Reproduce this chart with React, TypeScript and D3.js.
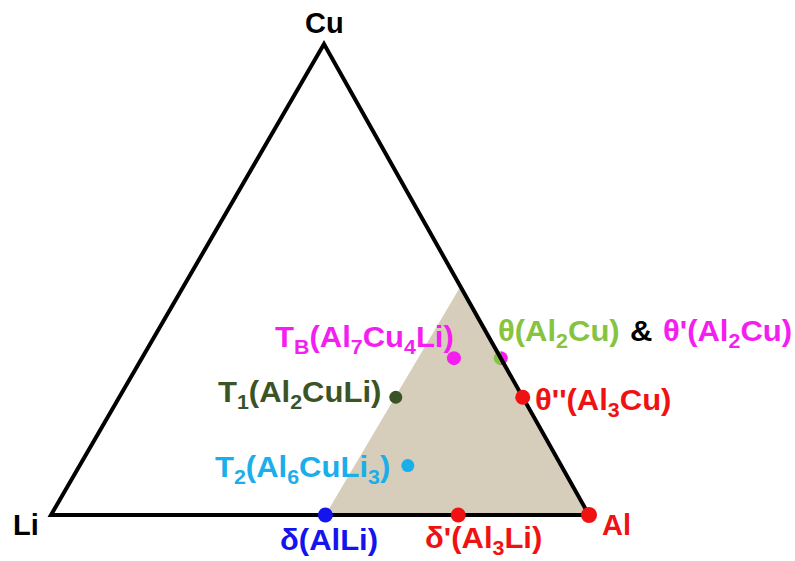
import React from 'react';
import * as d3 from 'd3';

// ---- data ----
const vertexNames = ['Li', 'Al', 'Cu'];
const vertexColors = ['#000000', '#f01212', '#000000'];

const phaseLabels = [
  'δ(AlLi)',
  "δ'(Al_3Li)",
  '',
  "θ''(Al_3Cu)",
  'θ(Al_2Cu)',
  'T_B(Al_7Cu_4Li)',
  'T_1(Al_2CuLi)',
  'T_2(Al_6CuLi_3)',
];
// composition (atomic fraction) of Al and Cu; Li = 1 - Al - Cu
const phaseAl = [0.51, 0.757, 1.0, 0.75, 0.667, 0.58, 0.514, 0.61];
const phaseCu = [0.0, 0.0, 0.0, 0.25, 0.333, 0.333, 0.25, 0.105];
const phaseColors = ['#1414ee', '#f01212', '#f01212', '#f01212', '#86c440', '#f51ef0', '#3b5426', '#1aaeea'];
const secondColor = ['', '', '', '', '#f51ef0', '', '', ''];

const extraLabels = ['&', "θ'(Al_2Cu)"];
const extraColors = ['#000000', '#f51ef0'];

// shaded field (Al-rich corner)
const regionAl = [0.51, 1.0, 0.515];
const regionCu = [0.0, 0.0, 0.485];

// ---- layout ----
const W = 795, H = 561;
const LI = { x: 51, y: 515 };
const AL = { x: 589, y: 515 };
const CU = { x: 324, y: 44 };
const labelPos: [number, number][] = [
  [280, 550], [425, 548], [0, 0], [535, 410], [498, 341], [275, 347], [218, 402], [215, 477],
];
const extraPos: [number, number][] = [[630, 341], [663, 341]];
const vertexLabelPos: [number, number][] = [[13, 535], [602, 535], [305, 33]];
const dotR = [7.5, 7.5, 8, 7.5, 7, 7, 6.5, 6.5];

const FONT = '"Liberation Sans", Arial, sans-serif';

const yScale = d3.scaleLinear().domain([0, 1]).range([LI.y, CU.y]);
const alScale = d3.scaleLinear().domain([0, 1]).range([0, AL.x - LI.x]);
const cuXScale = d3.scaleLinear().domain([0, 1]).range([0, CU.x - LI.x]);

function project(al: number, cu: number): [number, number] {
  return [LI.x + alScale(al) + cuXScale(cu), yScale(cu)];
}

function parse(label: string) {
  const segs: { t: string; sub: boolean }[] = [];
  let i = 0;
  let buf = '';
  while (i < label.length) {
    if (label[i] === '_') {
      if (buf) segs.push({ t: buf, sub: false });
      buf = '';
      segs.push({ t: label[i + 1], sub: true });
      i += 2;
    } else {
      buf += label[i];
      i++;
    }
  }
  if (buf) segs.push({ t: buf, sub: false });
  return segs;
}

function Label({ text, x, y, color, size = 29, sx = 1.07 }: any) {
  const segs = parse(text);
  let shifted = false;
  return (
    <g transform={`translate(${x},${y}) scale(${sx},1)`}>
      <text x={0} y={0} fill={color} fontFamily={FONT} fontWeight="bold" fontSize={size}>
        {segs.map((s, k) => {
          let dy = 0;
          if (s.sub && !shifted) { dy = 7; shifted = true; }
          else if (!s.sub && shifted) { dy = -7; shifted = false; }
          return (
            <tspan key={k} dy={dy} fontSize={s.sub ? 20 : size}>{s.t}</tspan>
          );
        })}
      </text>
    </g>
  );
}

export default function App() {
  const tri = [project(0, 0), project(1, 0), project(0, 1)];
  const triPath = d3.line()(tri) + 'Z';
  const region = regionAl.map((a, i) => project(a, regionCu[i]));
  const regionPath = d3.line()(region) + 'Z';

  const pts = phaseAl.map((a, i) => project(a, phaseCu[i]));

  return (
    <svg width={W} height={H} style={{ position: 'absolute', left: 0, top: 0, background: '#fff' }}>
      <path d={regionPath} fill="#d6cebb" />
      {pts.map((p, i) =>
        secondColor[i] ? (
          <g key={'h' + i}>
            <path d={`M${p[0]},${p[1] - dotR[i]} A${dotR[i]},${dotR[i]} 0 0 0 ${p[0]},${p[1] + dotR[i]} Z`} fill={phaseColors[i]} />
            <path d={`M${p[0]},${p[1] - dotR[i]} A${dotR[i]},${dotR[i]} 0 0 1 ${p[0]},${p[1] + dotR[i]} Z`} fill={secondColor[i]} />
          </g>
        ) : null
      )}
      <path d={triPath} fill="none" stroke="#000" strokeWidth={4} strokeLinejoin="miter" />
      {pts.map((p, i) =>
        secondColor[i] ? null : <circle key={'c' + i} cx={p[0]} cy={p[1]} r={dotR[i]} fill={phaseColors[i]} />
      )}
      {vertexNames.map((n, i) => (
        <Label key={'v' + i} text={n} x={vertexLabelPos[i][0]} y={vertexLabelPos[i][1]} color={vertexColors[i]} sx={1} />
      ))}
      {phaseLabels.map((l, i) =>
        l ? <Label key={'l' + i} text={l} x={labelPos[i][0]} y={labelPos[i][1]} color={phaseColors[i]} /> : null
      )}
      {extraLabels.map((l, i) => (
        <Label key={'e' + i} text={l} x={extraPos[i][0]} y={extraPos[i][1]} color={extraColors[i]} />
      ))}
    </svg>
  );
}
